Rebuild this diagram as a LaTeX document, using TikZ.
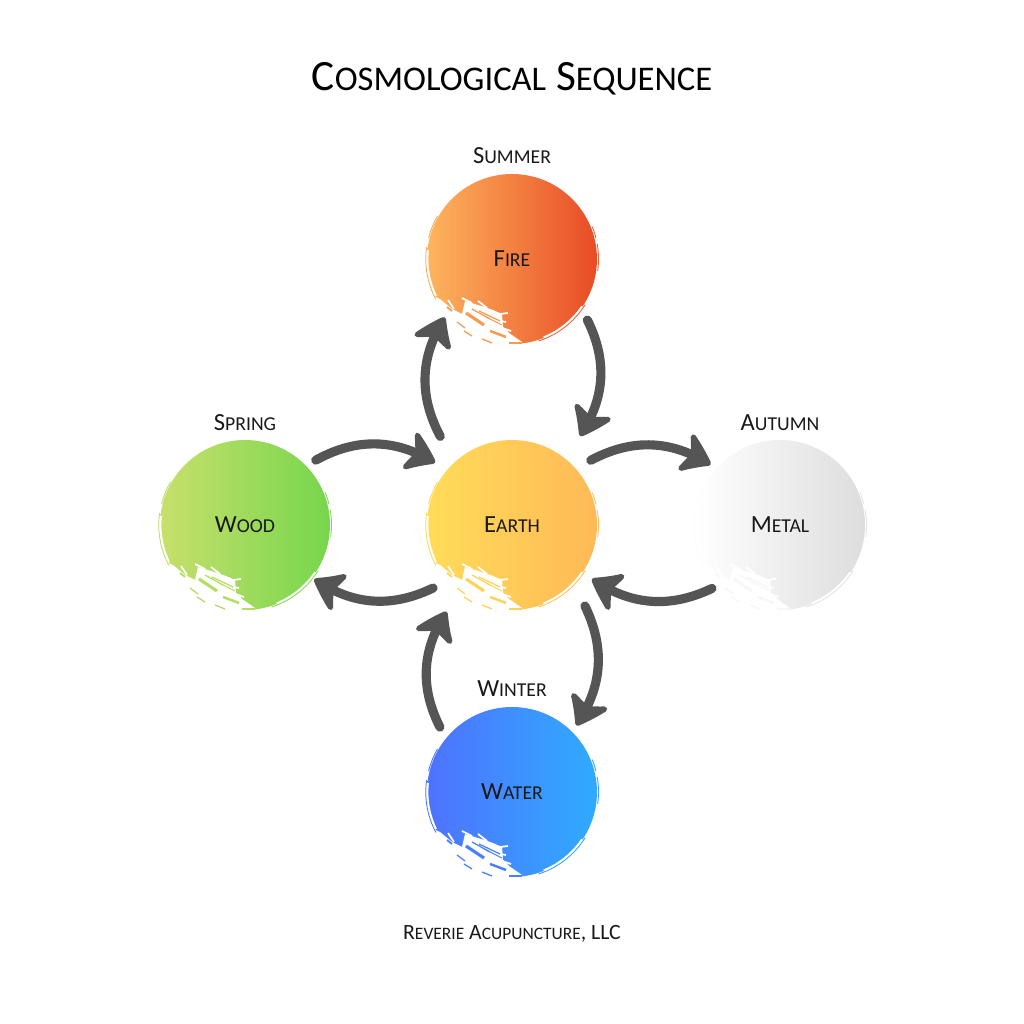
\documentclass[tikz,border=0pt]{standalone}
\usepackage{fontspec}
\setmainfont{Carlito}
\newfontfamily\lowcaps{Carlito}[Scale=0.8]
\newcommand{\smcp}[2]{#1{\lowcaps #2}}
\usetikzlibrary{arrows.meta,bending,calc}
\definecolor{flowgray}{HTML}{555555}
\definecolor{firel}{HTML}{FDB55E}\definecolor{firer}{HTML}{E94B25}
\definecolor{earthl}{HTML}{FFDC58}\definecolor{earthr}{HTML}{FFB957}
\definecolor{woodl}{HTML}{C8DF6C}\definecolor{woodr}{HTML}{76D64C}
\definecolor{metall}{HTML}{FFFFFF}\definecolor{metalr}{HTML}{DDDDDD}
\definecolor{waterl}{HTML}{4F72FF}\definecolor{waterr}{HTML}{2FABFF}
\tikzset{
  ball/.style={circle,minimum size=1.70cm,inner sep=0pt,left color=#1l,right color=#1r,font=\fontsize{7}{8}\selectfont,text=black!90},
  season/.style={font=\fontsize{7}{8}\selectfont,text=black!90},
  flow/.style={draw=flowgray,line width=2.6pt,line cap=round,bend left=30,-{Stealth[length=.34cm,width=.48cm,inset=.10cm,round,line width=1.5pt,bend]}},
}
\begin{document}
\begin{tikzpicture}
\useasboundingbox (0,0) rectangle (10.24,10.24);
\fill[white] (0,0) rectangle (10.24,10.24);
\node (title) at (5.12,9.45) {\fontsize{12.3}{14}\selectfont\smcp{C}{OSMOLOGICAL} \smcp{S}{EQUENCE}};
\node[ball=fire] (fire) at (5.12,7.65) {\smcp{F}{IRE}};
\node[ball=earth] (earth) at (5.12,4.99) {\smcp{E}{ARTH}};
\node[ball=wood] (wood) at (2.45,4.99) {\smcp{W}{OOD}};
\node[ball=metal] (metal) at (7.80,4.99) {\smcp{M}{ETAL}};
\node[ball=water] (water) at (5.12,2.32) {\smcp{W}{ATER}};
\node[season] (summer) at (5.12,8.68) {\smcp{S}{UMMER}};
\node[season] (spring) at (2.45,6.01) {\smcp{S}{PRING}};
\node[season] (autumn) at (7.80,6.01) {\smcp{A}{UTUMN}};
\node[season] (winter) at (5.12,3.35) {\smcp{W}{INTER}};
\node[season,font=\fontsize{6.2}{7}\selectfont] (credit) at (5.12,0.905) {\smcp{R}{EVERIE} \smcp{A}{CUPUNCTURE}, LLC};
% brush marks
\foreach \n in {fire,earth,wood,metal,water}{
  \begin{scope}[shift={(\n.center)}]
  \fill[white] (-.88,-.33) -- (-.72,-.40) -- (-.60,-.50) -- (-.50,-.55) -- (-.47,-.42) -- (-.34,-.46) -- (-.19,-.51) -- (-.10,-.55) -- (-.09,-.68) -- (-.03,-.74) -- (.10,-.83) -- (.12,-.92) -- (-.88,-.92) -- cycle;
  \foreach \xa/\ya/\xb/\yb in {-.12/-.55/-.04/-.54,-.12/-.62/-.06/-.63,-.10/-.69/-.01/-.72,-.40/-.44/-.50/-.39,-.25/-.49/-.34/-.42,-.58/-.50/-.64/-.41}{
    \draw[white,line width=.5pt] (\xa,\ya) -- (\xb,\yb);
  }
  \foreach \xa/\ya/\xb/\yb/\w in {-.46/-.54/-.28/-.66/.9,-.40/-.50/-.22/-.60/.35,-.33/-.52/-.12/-.62/.35,-.26/-.58/-.10/-.66/.3,-.22/-.72/-.06/-.78/.7,-.55/-.63/-.47/-.69/.35,-.48/-.72/-.40/-.77/.35,-.30/-.80/-.20/-.84/.35,-.65/-.48/-.60/-.52/.5,-.03/-.84/.10/-.84/.6}{
    \draw[\n l!75!\n r,line width=\w pt] (\xa,\ya) -- (\xb,\yb);
  }
  % frayed rims
  \foreach \a/\b/\r in {172/208/.862,150/166/.86}{
    \draw[\n l!90!\n r,line width=.25pt] (\a:\r) arc[start angle=\a,end angle=\b,radius=\r];
  }
  \foreach \a/\b/\r in {-72/-32/.862,-8/10/.865,14/22/.865}{
    \draw[\n r!80!\n l,line width=.25pt] (\a:\r) arc[start angle=\a,end angle=\b,radius=\r];
  }
  \foreach \a/\b in {-68/-34,174/206}{
    \draw[white,line width=.5pt] (\a:.845) arc[start angle=\a,end angle=\b,radius=.845];
  }
  \end{scope}
}
% arrows
\draw[flow] ($(earth)+(129:1.14)$) to ($(fire)+(221:.89)$);
\draw[flow] ($(fire)+(-39:.97)$) to ($(earth)+(52.6:1.12)$);
\draw[flow] ($(wood)+(42.5:.96)$) to ($(earth)+(141:.99)$);
\draw[flow] ($(earth)+(39.4:1.02)$) to ($(metal)+(139:.92)$);
\draw[flow] ($(metal)+(223:.93)$) to ($(earth)+(-34:.965)$);
\draw[flow] ($(earth)+(218.6:1.01)$) to ($(wood)+(-38:.88)$);
\draw[flow] ($(water)+(138:.97)$) to ($(earth)+(233:1.086)$);
\draw[flow] ($(earth)+(-48:1.09)$) to ($(water)+(46:.926)$);
\end{tikzpicture}
\end{document}
